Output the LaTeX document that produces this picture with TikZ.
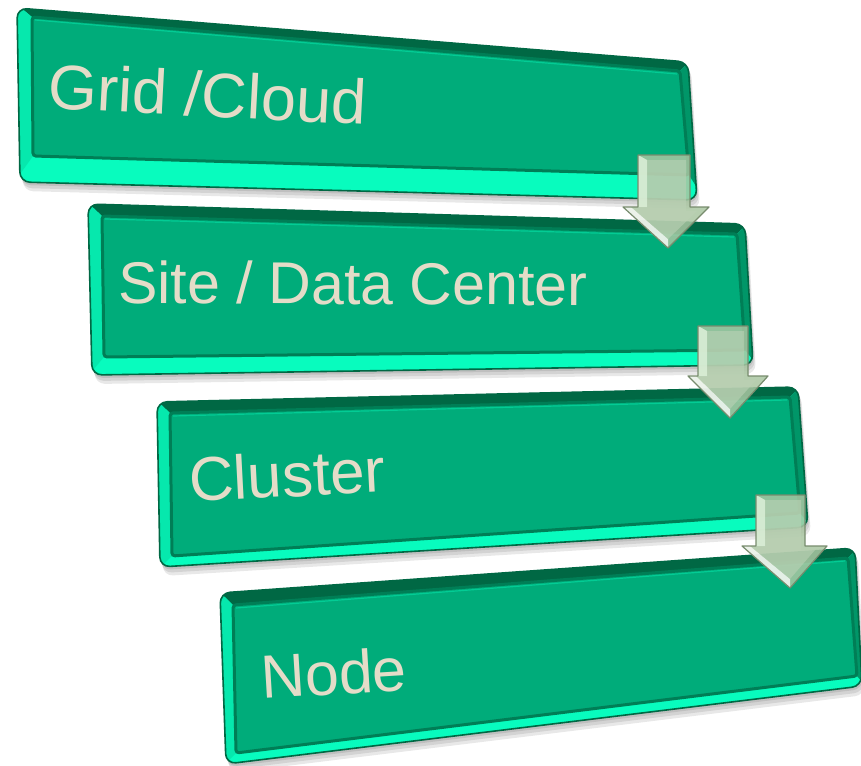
\documentclass[tikz,border=0pt]{standalone}
\usepackage{fontspec}
\setmainfont{Liberation Sans}
\usetikzlibrary{calc}
\definecolor{face}{RGB}{0,172,122}
\definecolor{facedark}{RGB}{0,126,86}
\definecolor{rimdark}{RGB}{0,104,68}
\definecolor{rimmid}{RGB}{0,150,104}
\definecolor{rimbright}{RGB}{8,252,190}
\definecolor{txt}{RGB}{228,220,200}
\definecolor{arrowfill}{RGB}{170,198,162}
\definecolor{arrowlight}{RGB}{218,238,214}
\definecolor{arrowedge}{RGB}{120,140,110}
\tikzset{
  lbl/.style={anchor=base west, inner sep=0pt, text=txt, font=\fontsize{62}{70}\selectfont},
  shadowfill/.style={fill=black, opacity=0.09},
}
\newcommand\greenbox[1]{%
  \foreach \dy/\dx in {9/3,6/2,3/1}{%
    \fill[shadowfill, rounded corners=10pt] ($(#1-otl)+(\dx,\dy-3)$) -- ($(#1-otr)+(\dx,\dy-3)$) -- ($(#1-obr)+(\dx,\dy)$) -- ($(#1-obl)+(\dx,\dy)$) -- cycle;}
  \begin{scope}
    \path[clip, rounded corners=10pt] (#1-otl) -- (#1-otr) -- (#1-obr) -- (#1-obl) -- cycle;
    \fill[rimbright] ($(#1-otl)+(-20,-20)$) -- ($(#1-otr)+(20,-20)$) -- ($(#1-obr)+(20,20)$) -- ($(#1-obl)+(-20,20)$) -- cycle;
    \fill[rimdark] ($(#1-otl)+(-20,-20)$) -- ($(#1-otr)+(20,-20)$) -- (#1-itr) -- (#1-itl) -- cycle;
    \fill[rimmid] ($(#1-otr)+(20,-20)$) -- ($(#1-obr)+(20,20)$) -- (#1-ibr) -- (#1-itr) -- cycle;
    \fill[rimbright!75!face] ($(#1-otl)+(-20,-20)$) -- (#1-itl) -- (#1-ibl) -- ($(#1-obl)+(-20,20)$) -- cycle;
  \end{scope}
  \draw[rimdark, line width=1.6pt, rounded corners=10pt] (#1-otl) -- (#1-otr) -- (#1-obr) -- (#1-obl) -- cycle;
  \filldraw[fill=face, draw=facedark, line width=3pt, rounded corners=3pt] (#1-itl) -- (#1-itr) -- (#1-ibr) -- (#1-ibl) -- cycle;
  \draw[face!60!rimbright, line width=1.2pt] ($(#1-itl)+(3,3)$) -- ($(#1-itr)+(-3,3)$);
}
% #1 shaft left, #2 shaft right, #3 top, #4 head y, #5 head left, #6 head right, #7 tip x, #8 tip y
\newcommand\blockarrow[8]{%
  \fill[arrowfill, opacity=0.85] (#1,#3) -- (#2,#3) -- (#2,#4) -- (#6,#4) -- (#7,#8) -- (#5,#4) -- (#1,#4) -- cycle;
  \fill[arrowlight, opacity=0.9] (#1,#3) -- (#1+9,#3+5) -- (#1+9,#4) -- (#1,#4) -- cycle;
  \fill[white, opacity=0.75] (#5,#4) -- (#5+8,#4) -- (#7,#8-9) -- (#7,#8) -- cycle;
  \fill[arrowfill!80!white, opacity=0.6] (#1+9,#3+5) -- (#2-4,#3+5) -- (#2-4,#4+4) -- (#6-12,#4+4) -- (#7,#8-9) -- (#5+8,#4) -- (#1+9,#4) -- cycle;
  \draw[arrowedge, line width=1.2pt, line join=round] (#1,#3) -- (#2,#3) -- (#2,#4) -- (#6,#4) -- (#7,#8) -- (#5,#4) -- (#1,#4) -- cycle;
}
\begin{document}
\begin{tikzpicture}[x=1pt, y=-1pt]
\useasboundingbox[fill=white] (0,0) rectangle (861,765);
% box 1
\coordinate (b1-otl) at (17,8);   \coordinate (b1-otr) at (688,62);
\coordinate (b1-obr) at (697,200); \coordinate (b1-obl) at (20,182);
\coordinate (b1-itl) at (32,17);  \coordinate (b1-itr) at (680,71);
\coordinate (b1-ibr) at (689,175); \coordinate (b1-ibl) at (33,156);
% box 2
\coordinate (b2-otl) at (88,204);  \coordinate (b2-otr) at (745,224);
\coordinate (b2-obr) at (753,365); \coordinate (b2-obl) at (92,375);
\coordinate (b2-itl) at (102,216); \coordinate (b2-itr) at (737,234);
\coordinate (b2-ibr) at (745,350); \coordinate (b2-ibl) at (104,357);
% box 3
\coordinate (b3-otl) at (157,402); \coordinate (b3-otr) at (798,387);
\coordinate (b3-obr) at (808,527); \coordinate (b3-obl) at (160,567);
\coordinate (b3-itl) at (170,413); \coordinate (b3-itr) at (790,397);
\coordinate (b3-ibr) at (800,513); \coordinate (b3-ibl) at (172,556);
% box 4
\coordinate (b4-otl) at (220,593); \coordinate (b4-otr) at (855,548);
\coordinate (b4-obr) at (862,686); \coordinate (b4-obl) at (226,764);
\coordinate (b4-itl) at (233,605); \coordinate (b4-itr) at (848,558);
\coordinate (b4-ibr) at (857,676); \coordinate (b4-ibl) at (236,753);
\greenbox{b1}
\greenbox{b2}
\greenbox{b3}
\greenbox{b4}
\node[lbl, rotate=-3, font=\fontsize{63}{70}\selectfont] (grid) at (47,108) {Grid /Cloud};
\node[lbl, rotate=-0.3, font=\fontsize{59}{66}\selectfont] (site) at (118,303) {Site / Data Center};
\node[lbl, rotate=3] (cluster) at (190,502) {Cluster};
\node[lbl, rotate=3.5, font=\fontsize{61}{66}\selectfont] (node) at (262,699) {Node};
\blockarrow{638}{690}{155}{207}{623}{709}{668}{248}
\blockarrow{698}{748}{326}{376}{688}{768}{730}{418}
\blockarrow{756}{805}{495}{546}{742}{827}{790}{588}
\end{tikzpicture}
\end{document}
